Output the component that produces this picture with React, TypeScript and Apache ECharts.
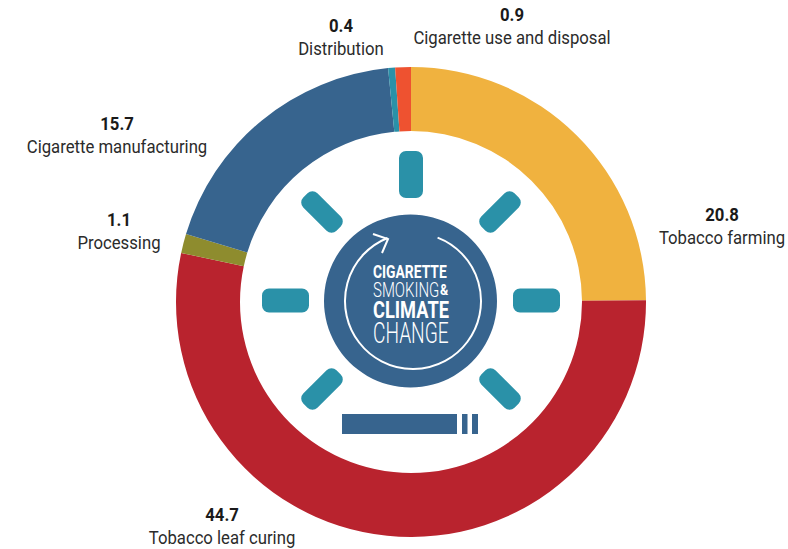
import React, { useEffect, useRef } from "react";
import * as echarts from "echarts";

const categories = ["Tobacco farming", "Tobacco leaf curing", "Processing", "Cigarette manufacturing", "Distribution", "Cigarette use and disposal"];
const values = [20.8, 44.7, 1.1, 15.7, 0.4, 0.9];
const colors = ["#F0B23F", "#B9232E", "#8E8C2E", "#37648E", "#2A91A8", "#EE5230"];
const labelCentres = [[722, 226], [222, 526], [119, 231], [117, 135], [341, 37], [512, 26]];

const FONT = "Roboto, 'Liberation Sans', sans-serif";
const BLUE = "#37648E";
const TEAL = "#2A91A8";
const CX = 411;
const CY = 302;

const bar = (x: number, y: number, w: number, h: number, rotation = 0) => ({
  type: "rect", x, y, rotation,
  shape: { x: -w / 2, y: -h / 2, width: w, height: h, r: 7 },
  style: { fill: TEAL },
});
const word = (text: string, x: number, y: number, size: number, weight: string, scaleX: number) => ({
  type: "text", x, y, scaleX,
  style: { text, fill: "#fff", fontFamily: FONT, fontSize: size, fontWeight: weight, align: "left", verticalAlign: "middle" },
});
const label = (text: string, x: number, y: number, weight: string, fill: string) => ({
  type: "text", x, y, scaleX: 0.88,
  style: { text, fill, fontFamily: FONT, fontSize: 19, fontWeight: weight, align: "center", verticalAlign: "middle" },
});

export default function App() {
  const ref = useRef<HTMLDivElement>(null);
  useEffect(() => {
    const chart = echarts.init(ref.current!, undefined, { renderer: "svg" });
    chart.setOption({
      animation: false,
      backgroundColor: "#fff",
      series: [{
        type: "pie",
        center: [CX, CY],
        radius: [171, 235],
        startAngle: 90,
        clockwise: true,
        silent: true,
        data: categories.map((name, i) => ({ name, value: values[i], itemStyle: { color: colors[i] } })),
        label: { show: false },
        labelLine: { show: false },
      }],
      graphic: [
        ...categories.flatMap((name, i) => [
          label(String(values[i]), labelCentres[i][0], labelCentres[i][1] - 12, "bold", "#1a1a1a"),
          label(name, labelCentres[i][0], labelCentres[i][1] + 11, "normal", "#2b2b2b"),
        ]),
        bar(411, 174.5, 24, 47),
        bar(536.5, 300.5, 47, 24),
        bar(285.5, 300.5, 47, 24),
        bar(500, 212, 47, 20, Math.PI / 4),
        bar(322, 212, 47, 20, -Math.PI / 4),
        bar(322, 389, 47, 20, Math.PI / 4),
        bar(500, 389, 47, 20, -Math.PI / 4),
        { type: "circle", shape: { cx: 410.5, cy: 301, r: 86.5 }, style: { fill: BLUE } },
        { type: "arc", shape: { cx: 413, cy: 301, r: 68, startAngle: -68.8 * Math.PI / 180, endAngle: 248 * Math.PI / 180, clockwise: true }, style: { stroke: "#fff", lineWidth: 2, fill: "none" } },
        { type: "polyline", shape: { points: [[373, 234], [388, 239], [382, 253]] }, style: { stroke: "#fff", lineWidth: 2, fill: "none" } },
        word("CIGARETTE", 373, 272, 18, "bold", 0.77),
        word("SMOKING", 373, 290, 20, "300", 0.75),
        word("&", 440, 290, 14, "bold", 0.9),
        word("CLIMATE", 373, 310, 24, "bold", 0.76),
        word("CHANGE", 373, 333, 29, "300", 0.66),
        { type: "rect", shape: { x: 342, y: 414, width: 115, height: 20 }, style: { fill: BLUE } },
        { type: "rect", shape: { x: 462, y: 414, width: 5.5, height: 20 }, style: { fill: BLUE } },
        { type: "rect", shape: { x: 472, y: 414, width: 6, height: 20 }, style: { fill: BLUE } },
      ],
    });
    return () => chart.dispose();
  }, []);
  return <div ref={ref} style={{ position: "fixed", left: 0, top: 0, width: 788, height: 549 }} />;
}
